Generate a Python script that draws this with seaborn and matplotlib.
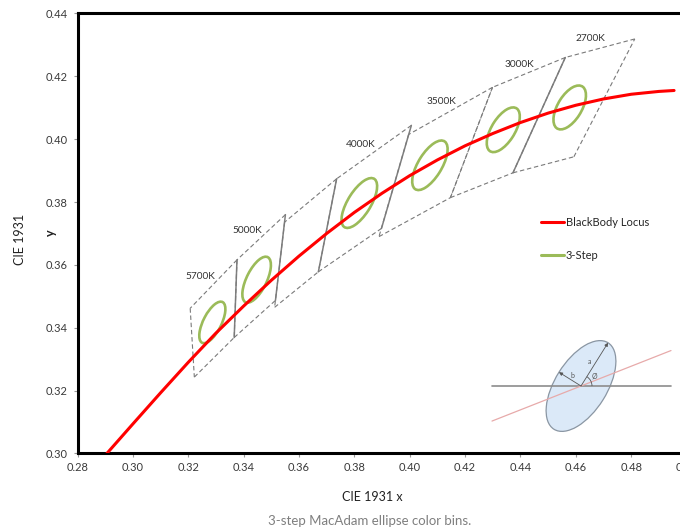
import numpy as np
import pandas as pd
import matplotlib
matplotlib.use("Agg")
import matplotlib.pyplot as plt
from matplotlib.patches import Ellipse, Arc
from matplotlib.lines import Line2D
import seaborn as sns

# black body locus
locus_x = [0.2906, 0.300, 0.310, 0.320, 0.330, 0.340, 0.350, 0.360, 0.370, 0.380, 0.390,
           0.400, 0.410, 0.420, 0.430, 0.440, 0.450, 0.460, 0.470, 0.480, 0.490, 0.4955]
locus_y = [0.3000, 0.3094, 0.3193, 0.3290, 0.3383, 0.3469, 0.3551, 0.3628, 0.3700, 0.3767, 0.3828,
           0.3884, 0.3934, 0.3979, 0.4018, 0.4053, 0.4083, 0.4108, 0.4128, 0.4143, 0.4152, 0.4155]

# CCT quadrangles (corners: top-right, top-left, bottom-left, bottom-right)
quad_cct = ["5700K", "5000K", "4500K", "4000K", "3500K", "3000K", "2700K"]
quad_x = [[0.3376, 0.3207, 0.3222, 0.3366],
          [0.3551, 0.3376, 0.3366, 0.3515],
          [0.3736, 0.3548, 0.3512, 0.3670],
          [0.4006, 0.3736, 0.3670, 0.3898],
          [0.4299, 0.3996, 0.3889, 0.4147],
          [0.4562, 0.4299, 0.4147, 0.4373],
          [0.4813, 0.4562, 0.4373, 0.4593]]
quad_y = [[0.3616, 0.3462, 0.3243, 0.3369],
          [0.3760, 0.3616, 0.3369, 0.3487],
          [0.3874, 0.3736, 0.3465, 0.3578],
          [0.4044, 0.3874, 0.3578, 0.3716],
          [0.4165, 0.4015, 0.3690, 0.3814],
          [0.4260, 0.4165, 0.3814, 0.3893],
          [0.4319, 0.4260, 0.3893, 0.3944]]
quad_label = ["5700K", "5000K", "", "4000K", "3500K", "3000K", "2700K"]

# 3-step MacAdam ellipses
ell_cct = ["5700K", "5000K", "4000K", "3500K", "3000K", "2700K"]
ell_x = [0.3287, 0.3447, 0.3818, 0.4073, 0.4338, 0.4578]
ell_y = [0.3417, 0.3553, 0.3797, 0.3917, 0.4030, 0.4101]
ell_a = [0.00746, 0.00822, 0.00939, 0.00927, 0.00834, 0.00810]
ell_b = [0.00320, 0.00354, 0.00402, 0.00414, 0.00408, 0.00420]
ell_theta = [59.09, 59.62, 53.72, 54.00, 53.22, 53.70]

x_ticks = [0.28, 0.30, 0.32, 0.34, 0.36, 0.38, 0.40, 0.42, 0.44, 0.46, 0.48, 0.50]
y_ticks = [0.30, 0.32, 0.34, 0.36, 0.38, 0.40, 0.42, 0.44]

# layout bits
solid_right = [True, True, True, True, False, True, False]
label_pos = {"5700K": (0.3243, 0.3564), "5000K": (0.3413, 0.3710), "4000K": (0.3822, 0.3983),
             "3500K": (0.4114, 0.4119), "3000K": (0.4395, 0.4238), "2700K": (0.4653, 0.4319)}

RED = "#FF0000"
GREEN = "#9BBB59"
GRAY = "#808080"

sns.set_theme(style="white")
plt.rcParams["font.family"] = ["Lato", "DejaVu Sans"]

fig = plt.figure(figsize=(6.8, 5.31), dpi=100)
ax = fig.add_axes([0.1140, 0.1460, 0.8956, 0.8286])

# quadrangles
dash = (0, (4, 2.5))
for i in range(len(quad_cct)):
    qx = quad_x[i] + [quad_x[i][0]]
    qy = quad_y[i] + [quad_y[i][0]]
    # top, left, bottom edges dashed
    for k in range(3):
        ax.plot(qx[k:k + 2], qy[k:k + 2], color="#7a7a7a", lw=0.8, ls=dash, zorder=2)
    if solid_right[i]:
        ax.plot(qx[3:5], qy[3:5], color=GRAY, lw=1.1, ls="-", zorder=2)
    else:
        ax.plot(qx[3:5], qy[3:5], color="#7a7a7a", lw=0.8, ls=dash, zorder=2)
    if quad_label[i]:
        lx, ly = label_pos[quad_label[i]]
        ax.text(lx, ly, quad_label[i], fontsize=7.3, color="#333333", ha="center", va="center")

# ellipses
for i in range(len(ell_cct)):
    e = Ellipse((ell_x[i], ell_y[i]), 2 * ell_a[i], 2 * ell_b[i], angle=ell_theta[i],
                fill=False, edgecolor=GREEN, lw=1.9, zorder=3)
    ax.add_patch(e)

# locus
sns.lineplot(x=locus_x, y=locus_y, color=RED, lw=2.2, sort=False, estimator=None,
             legend=False, ax=ax, zorder=4)

ax.set_xlim(0.28, 0.50)
ax.set_ylim(0.30, 0.44)
ax.set_xticks(x_ticks)
ax.set_yticks(y_ticks)
ax.set_xticklabels([f"{v:.2f}" for v in x_ticks])
ax.set_yticklabels([f"{v:.2f}" for v in y_ticks])
ax.tick_params(axis="both", direction="out", length=3, width=0.8, color="#999999",
               labelsize=8, labelcolor="#3a3a3a")
ax.tick_params(axis="y", pad=4)
ax.tick_params(axis="x", pad=3)
ax.tick_params(left=True, bottom=True)
for s in ["top", "left", "bottom", "right"]:
    ax.spines[s].set_color("black")
    ax.spines[s].set_linewidth(2.2)
ax.set_xlabel("")
ax.set_ylabel("")

handles = [Line2D([], [], color=RED, lw=2.2), Line2D([], [], color=GREEN, lw=2.2)]
fig.legend(handles, ["BlackBody Locus", "3-Step"], loc="upper left",
           bbox_to_anchor=(0.796, 0.592), frameon=False, fontsize=8,
           handlelength=2.0, handletextpad=0.2, labelspacing=2.0,
           borderpad=0, borderaxespad=0)

# axis titles
fig.text(372 / 680, 1 - 497 / 531, "CIE 1931 x", fontsize=9, color="#222222",
         ha="center", va="center")
fig.text(20 / 680, 1 - 239 / 531, "CIE 1931", fontsize=9, color="#222222",
         ha="center", va="center", rotation=90)
fig.text(51 / 680, 1 - 233 / 531, "y", fontsize=9, color="#222222", fontweight="bold",
         ha="center", va="center", rotation=90)
fig.text(370 / 680, 1 - 521 / 531, "3-step MacAdam ellipse color bins.", fontsize=9.5,
         color="#7f7f7f", ha="center", va="center")

# explanatory sketch (pixel space overlay)
ov = fig.add_axes([0, 0, 1, 1], facecolor="none")
ov.set_xlim(0, 680)
ov.set_ylim(0, 531)
ov.axis("off")
cx, cy = 581, 531 - 386
sa, sb, sang, slope_ang = 51, 26, 58, 21.5
ov.add_patch(Ellipse((cx, cy), 2 * sa, 2 * sb, angle=sang, facecolor="#dbe9f8",
                     edgecolor="#8a96a3", lw=0.9, zorder=1))
ov.plot([492, 671], [cy, cy], color="#8c8c8c", lw=1.2, zorder=2)
t = np.tan(np.radians(slope_ang))
ov.plot([492, 671], [cy + (492 - cx) * t, cy + (671 - cx) * t], color="#e7aaaa", lw=0.9, zorder=2)
ra, rb = np.radians(sang), np.radians(sang + 90)
ov.annotate("", xy=(cx + sa * np.cos(ra), cy + sa * np.sin(ra)), xytext=(cx, cy),
            arrowprops=dict(arrowstyle="-|>", lw=0.6, color="#555555", mutation_scale=5,
                            shrinkA=0, shrinkB=0), zorder=3)
ov.annotate("", xy=(cx + sb * np.cos(rb), cy + sb * np.sin(rb)), xytext=(cx, cy),
            arrowprops=dict(arrowstyle="-|>", lw=0.6, color="#555555", mutation_scale=5,
                            shrinkA=0, shrinkB=0), zorder=3)
ov.add_patch(Arc((cx, cy), 22, 22, theta1=0, theta2=sang, color="#555555", lw=0.6, zorder=3))
ov.text(590, 531 - 361, "a", fontsize=5, color="#555555", ha="center", va="center")
ov.text(572, 531 - 376, "b", fontsize=5, color="#555555", ha="center", va="center")
ov.text(594, 531 - 376, "Ø", fontsize=5, color="#555555", ha="center", va="center")

fig.savefig("out.png", dpi=100)
